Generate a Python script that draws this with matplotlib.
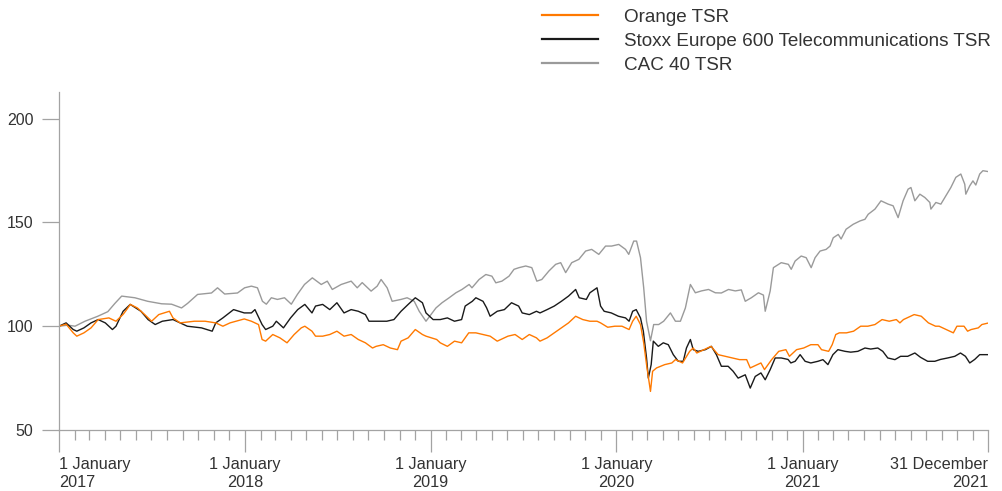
import numpy as np
import pandas as pd
import matplotlib
matplotlib.use('Agg')
import matplotlib.pyplot as plt
import matplotlib.dates as mdates
from matplotlib.ticker import FixedLocator

plt.rcParams['font.family'] = ['Liberation Sans', 'DejaVu Sans']

# weeks since 1 January 2017, values rebased to 100
orange_weeks = [
    0, 2, 4, 5, 7, 9, 11, 14, 16, 18,
    19, 20, 22, 24, 26, 28, 31, 32, 34, 38,
    41, 44, 46, 48, 52, 54, 56, 57, 58, 60,
    62, 64, 66, 68, 69, 71, 72, 74, 76, 78,
    80, 82, 84, 86, 88, 89, 91, 93, 95, 96,
    98, 100, 102, 103, 106, 107, 109, 111, 113, 115,
    117, 119, 121, 123, 124, 126, 128, 130, 132, 134,
    135, 137, 139, 141, 143, 145, 147, 149, 151, 152,
    154, 156, 158, 160, 161, 162, 163.2, 164.1, 164.9, 166.0,
    166.6, 167.7, 170, 172, 173, 175, 177, 178, 179, 181,
    183, 185, 187, 189, 191, 193, 194, 195, 197, 198,
    200, 202, 204, 205, 207, 209, 211, 213, 214, 216,
    217, 218, 219, 221, 223, 225, 227, 229, 231, 233,
    235, 236, 237, 239, 240, 242, 244, 246, 247, 249,
    251, 252, 254, 255, 256, 258, 259, 260.7,
]
orange_tsr = [
    100, 101, 96.8, 95.2, 96.8, 99.2, 103.2, 104, 102.4, 105.7,
    108, 110.5, 108.8, 105.7, 102.4, 105.6, 107.2, 104, 101.6, 102.4,
    102.4, 101.6, 100, 101.6, 103.5, 102.4, 100.8, 93.6, 92.8, 96,
    94.4, 92, 96, 99.2, 100, 97.6, 95.2, 95.2, 96, 97.6,
    95.2, 96, 93.6, 92, 89.5, 90.3, 91.1, 89.5, 88.7, 92.8,
    94.4, 98.4, 96, 95.2, 93.6, 92, 90.3, 92.8, 92, 96.8,
    96.8, 96, 95.2, 92.8, 93.6, 95.2, 96, 93.6, 96, 94.4,
    92.8, 94.4, 96.8, 99.2, 101.6, 104.8, 103.2, 102.4, 102.4, 101.6,
    99.5, 100, 100, 98.4, 102.4, 104.8, 100.8, 92, 81.5, 68.6,
    78.3, 79.9, 81.5, 82.3, 83.9, 82.3, 87.9, 89.5, 87.1, 88.7,
    90.3, 86.3, 85.5, 84.7, 83.9, 83.9, 79.9, 80.7, 82.3, 79.1,
    83.9, 87.9, 88.7, 85.5, 88.7, 89.5, 91.1, 91.1, 88.7, 87.9,
    91.1, 96, 96.8, 96.8, 97.6, 100, 100, 100.8, 103.2, 102.4,
    103.2, 101.6, 103.2, 104.8, 105.6, 104.8, 101.6, 100, 100, 98.4,
    96.8, 100, 100, 97.6, 98.4, 99.2, 100.8, 101.5,
]

stoxx_weeks = [
    0, 2, 4, 5, 7, 9, 11, 13, 15, 16,
    18, 20, 23, 25, 27, 29, 32, 34, 36, 40,
    43, 44, 46, 49, 52, 54, 55, 57, 58, 60,
    61, 63, 65, 67, 69, 71, 72, 74, 76, 78,
    80, 82, 84, 86, 87, 89, 92, 94, 96, 98,
    100, 102, 103, 105, 107, 109, 111, 113, 114, 116,
    117, 119, 120, 121, 123, 125, 127, 129, 130, 132,
    134, 135, 137, 139, 141, 143, 145, 146, 148, 149,
    151, 152, 153, 155, 157, 159, 160, 161, 162, 163.2,
    164.0, 164.9, 165.4, 166.2, 166.8, 168.2, 169.6, 171.0, 172.4, 173.8,
    175.2, 176.1, 177.2, 178.0, 179.4, 181.4, 183.1, 184.5, 185.9, 187.8,
    189.2, 190.6, 192.6, 194.0, 195.4, 197.0, 198.2, 199.6, 201.0, 202.7,
    204.6, 205.4, 206.6, 208.0, 209.4, 211.0, 213.0, 214.4, 215.8, 217.2,
    218.6, 220.6, 222.2, 224.2, 226.2, 227.8, 229.8, 231.2, 232.6, 234.6,
    236.2, 238.2, 240.2, 241.8, 243.8, 245.8, 247.4, 249.4, 251.4, 253.0,
    254.4, 255.6, 257.0, 258.4, 260.7,
]
stoxx_tsr = [
    100, 101.6, 98.4, 97.6, 99.2, 101.6, 103.2, 101.6, 98.4, 100,
    107.2, 110.5, 107.2, 103.2, 100.8, 102.4, 103.2, 101.6, 100, 99.2,
    97.6, 101.6, 104, 108, 106.4, 106.4, 108, 100.8, 98.4, 100,
    102.4, 99.2, 104, 108, 110.5, 106.4, 109.7, 110.5, 108, 111.3,
    106.4, 108, 107.2, 105.6, 102.4, 102.4, 102.4, 103.2, 107.2, 110.5,
    113.7, 111.3, 106.4, 103.2, 103.2, 104, 102.4, 103.2, 109.7, 112,
    113.7, 112, 108.9, 104.8, 107.2, 108, 111.3, 109.7, 106.4, 105.6,
    107.2, 106.4, 108, 109.7, 112, 114.5, 117.7, 113.7, 112.9, 116.1,
    118.5, 109.7, 107.2, 106.4, 104.8, 104, 102.4, 107.2, 108, 104,
    97.6, 84.7, 75, 81.5, 92.8, 90.3, 92, 91.1, 86.3, 83.1,
    83.1, 89.5, 93.6, 88.7, 87.9, 88.7, 90.3, 86.3, 80.7, 80.7,
    78.3, 75, 76.6, 70.2, 75.8, 77.5, 74.2, 79.1, 84.7, 84.7,
    84, 82.3, 83.1, 86.3, 83.1, 82.3, 83.1, 83.9, 81.5, 86.3,
    88.7, 87.9, 87.5, 87.9, 89.5, 89, 89.5, 87.9, 84.7, 83.9,
    85.5, 85.5, 87.1, 85, 83.1, 83.1, 84, 84.7, 85.5, 87.1,
    85.5, 82.3, 84, 86.3, 86.3,
]

cac_weeks = [
    0, 2.5, 4.5, 7.3, 10.9, 13.7, 15.7, 17.6, 21.3, 24.9,
    28.8, 31.6, 34.4, 36.1, 38.9, 42.8, 44.5, 46.5, 50.1, 52.1,
    54.0, 55.7, 57.1, 58.2, 59.6, 61.3, 63.3, 65.2, 66.9, 68.9,
    71.1, 73.6, 75.3, 76.7, 79.2, 82.0, 83.7, 85.1, 87.6, 89.3,
    90.4, 92.1, 93.5, 96.0, 97.7, 99.7, 101.1, 103.0, 104.4, 105.8,
    107.5, 109.5, 111.4, 113.1, 115.1, 115.9, 117.9, 119.8, 121.5, 122.6,
    124.3, 126.3, 127.7, 129.1, 131.0, 132.7, 134.1, 135.5, 137.5, 139.4,
    140.8, 142.2, 143.9, 145.9, 147.8, 149.5, 151.5, 153.4, 155.1, 157.1,
    159.0, 159.9, 161.3, 162.1, 163.2, 164.1, 164.9, 166.0, 166.9, 168.3,
    169.7, 171.6, 173.0, 174.4, 175.8, 177.2, 178.6, 180.3, 182.3, 184.2,
    185.9, 187.9, 189.8, 191.5, 192.6, 194.3, 196.3, 197.7, 198.2, 199.6,
    200.5, 202.7, 204.7, 205.5, 206.6, 208.3, 209.7, 211.1, 212.2, 213.6,
    215.3, 216.4, 217.3, 218.7, 219.5, 220.9, 222.9, 224.8, 226.2, 227.1,
    229.0, 230.7, 232.7, 234.1, 234.9, 235.5, 236.9, 238.3, 239.1, 240.2,
    241.6, 243.0, 244.4, 244.7, 246.1, 247.5, 248.9, 250.3, 251.7, 253.1,
    254.2, 254.5, 255.6, 256.5, 257.3, 258.4, 259.3, 260.7,
]
cac_tsr = [
    100, 100.5, 100, 102.4, 104.8, 107, 111, 114.5, 113.7, 112,
    110.8, 110.6, 108.8, 111, 115.3, 116, 118.5, 115.5, 116, 118.5,
    119.3, 118.5, 112, 110.6, 113.7, 112.9, 113.7, 110.6, 115.3, 120.1,
    123.3, 120.1, 121.7, 117.7, 120.1, 121.7, 118.5, 121, 116.9, 119.3,
    122.5, 118.5, 112, 112.9, 113.7, 112, 107.2, 102.4, 105.6, 108.8,
    111.3, 113.7, 116.1, 117.7, 120.1, 118.5, 122.5, 124.9, 124.1, 120.9,
    121.7, 124.1, 127.4, 128.2, 129, 128.2, 121.7, 122.5, 126.6, 129.8,
    130.6, 125.8, 130.6, 132.2, 136.2, 137, 134.6, 138.6, 138.6, 139.4,
    137, 134.6, 141, 141, 133, 118.5, 102.4, 93, 100.8, 100.8,
    102.4, 106.4, 102.4, 102.4, 108.8, 120.1, 116.1, 117, 117.7, 116.1,
    116, 117.7, 117, 117.5, 112, 113.7, 116.1, 115, 107.2, 117,
    128.2, 130.6, 129.8, 127.4, 131.4, 133.8, 133, 128.2, 133, 136.2,
    137, 138.6, 142.6, 144.2, 142, 146.7, 149.1, 150.7, 151.5, 153.9,
    156.4, 160.4, 158.8, 158, 154.7, 152.3, 160.4, 166, 166.8, 160.4,
    163.6, 162, 159.6, 156.4, 159.6, 158.8, 162.8, 166.8, 171.7, 173.3,
    168.4, 163.6, 167.6, 170, 168, 173.3, 174.9, 174.5,
]

major_dates = ['2017-01-01', '2018-01-01', '2019-01-01', '2020-01-01',
               '2021-01-01', '2021-12-31']
major_labels = ['1 January\n2017', '1 January\n2018', '1 January\n2019',
                '1 January\n2020', '1 January\n2021', '31 December\n2021']
y_ticks = [50, 100, 150, 200]

start = pd.Timestamp('2017-01-01')


def to_dates(weeks):
    return start + pd.to_timedelta(np.asarray(weeks, dtype=float) * 7, unit='D')


axis_grey = '#a3a3a3'
text_col = '#333333'

fig = plt.figure(figsize=(10.03, 4.91), dpi=100)
ax = fig.add_axes([0.0588, 0.1242, 0.9262, 0.6884])

ax.plot(to_dates(cac_weeks), cac_tsr, color='#9a9a9a', lw=1.0, label='CAC 40 TSR')
ax.plot(to_dates(stoxx_weeks), stoxx_tsr, color='#1a1a1a', lw=1.0,
        label='Stoxx Europe 600 Telecommunications TSR')
ax.plot(to_dates(orange_weeks), orange_tsr, color='#ff7900', lw=1.0, label='Orange TSR')

ax.set_xlim(pd.Timestamp('2017-01-01'), pd.Timestamp('2021-12-31'))
ax.set_ylim(50, 212.8)

for s in ['top', 'right']:
    ax.spines[s].set_visible(False)
for s in ['left', 'bottom']:
    ax.spines[s].set_color(axis_grey)
    ax.spines[s].set_linewidth(0.9)

ax.set_yticks(y_ticks)
ax.tick_params(axis='y', direction='out', length=12.5, width=0.9, color=axis_grey,
               pad=6, labelsize=11.5, labelcolor=text_col)

ax.xaxis.set_major_locator(FixedLocator(mdates.date2num(pd.to_datetime(major_dates))))
ax.xaxis.set_minor_locator(mdates.MonthLocator())
ax.set_xticklabels(major_labels)
ax.tick_params(axis='x', which='major', direction='out', length=15.5, width=0.9,
               color=axis_grey, pad=4, labelsize=11.7, labelcolor=text_col)
ax.tick_params(axis='x', which='minor', direction='out', length=7.5, width=0.9,
               color=axis_grey)
labels = ax.get_xticklabels()
labels[0].set_ha('left')
labels[0].set_multialignment('left')
labels[-1].set_ha('right')
labels[-1].set_multialignment('right')
for lab in labels[1:-1]:
    lab.set_multialignment('center')

handles, names = ax.get_legend_handles_labels()
order = [2, 1, 0]
leg = ax.legend([handles[i] for i in order], [names[i] for i in order],
                loc='upper left', bbox_to_anchor=(0.54, 0.982),
                bbox_transform=fig.transFigure, frameon=False, fontsize=13.6,
                handlelength=3.0, handletextpad=1.35, labelspacing=0.36,
                borderpad=0, borderaxespad=0)
for line in leg.get_lines():
    line.set_linewidth(1.6)
for t in leg.get_texts():
    t.set_color(text_col)

fig.savefig('out.png', dpi=100)
